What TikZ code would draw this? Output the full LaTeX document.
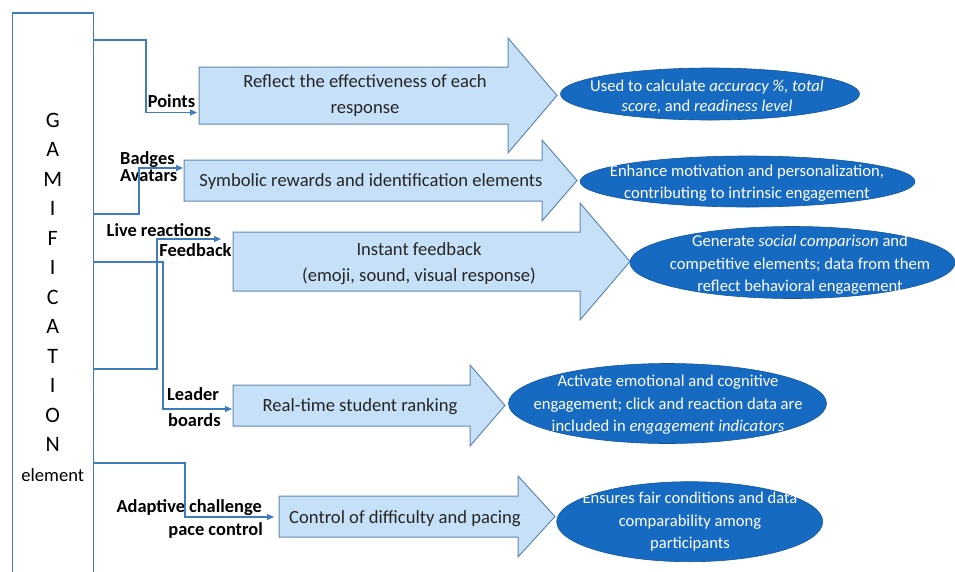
\documentclass[tikz,border=0pt]{standalone}
\usepackage{fontspec}
\setmainfont{Carlito}
\usetikzlibrary{arrows.meta,shapes.geometric}
\definecolor{linkblue}{RGB}{62,124,190}
\definecolor{arrfill}{RGB}{198,224,247}
\definecolor{arredge}{RGB}{98,136,176}
\definecolor{ovalblue}{RGB}{22,106,194}

\begin{document}
\begin{tikzpicture}[x=1pt,y=-1pt,
  gambox/.style={draw=linkblue, line width=1.2pt, minimum width=81pt, minimum height=568pt,
    inner sep=0pt, align=center, font=\fontsize{22}{29.5}\selectfont},
  link/.style={draw=linkblue, line width=1.2pt, -{Triangle[length=7pt,width=6pt]}},
  lbl/.style={inner sep=0pt, font=\bfseries\fontsize{18.4}{22}\selectfont},
  barrow/.style={fill=arrfill, draw=arredge, line width=1pt, line join=miter},
  arrtxt/.style={inner sep=0pt, align=center, text=black!85, font=\fontsize{18.6}{26}\selectfont},
  oval/.style={ellipse, fill=ovalblue, draw=ovalblue!80!black, line width=0.6pt, inner sep=0pt},
  ovtxt/.style={inner sep=0pt, align=center, text=white, font=\fontsize{16.6}{22.5}\selectfont}]

  \useasboundingbox (0,0) rectangle (955,571);
  \clip (0,0) rectangle (955,571);

  % the gamification element column
  \node[gambox] (gam) at (52.75,297) {G\\A\\M\\I\\F\\I\\C\\A\\T\\I\\O\\N\\{\fontsize{18.6}{29.5}\selectfont element}};

  % block arrows
  \draw[barrow] (199,67) -- (508,67) -- (508,38) -- (557,95.5) -- (508,153) -- (508,124) -- (199,124) -- cycle;
  \node[arrtxt] (ptsarr) at (365,96) {Reflect the effectiveness of each\\response};

  \draw[barrow] (184,160) -- (542,160) -- (542,140) -- (577,180.5) -- (542,221) -- (542,201) -- (184,201) -- cycle;
  \node[arrtxt] (bdgarr) at (371,181.5) {Symbolic rewards and identification elements};

  \draw[barrow] (233,232) -- (580,232) -- (580,203) -- (630,261.5) -- (580,320) -- (580,291) -- (233,291) -- cycle;
  \node[arrtxt] (livearr) at (419,264) {Instant feedback\\(emoji, sound, visual response)};

  \draw[barrow] (233,385) -- (470,385) -- (470,365) -- (505,405.5) -- (470,446) -- (470,426) -- (233,426) -- cycle;
  \node[arrtxt] (leadarr) at (360,407) {Real-time student ranking};

  \draw[barrow] (279,496) -- (518,496) -- (518,476) -- (555,516.5) -- (518,557) -- (518,537) -- (279,537) -- cycle;
  \node[arrtxt] (adaptarr) at (405,519) {Control of difficulty and pacing};

  % ovals
  \node[oval, minimum width=299pt, minimum height=52pt] (ptsoval) at (710,94) {};
  \node[ovtxt, font=\fontsize{16.6}{20}\selectfont] at (707,97) {Used to calculate \textit{accuracy \%, total}\\\textit{score}, and \textit{readiness level}};

  \node[oval, minimum width=335pt, minimum height=51pt] (bdgoval) at (747.5,181.5) {};
  \node[ovtxt] at (747,183) {Enhance motivation and personalization,\\contributing to intrinsic engagement};

  \node[oval, minimum width=325pt, minimum height=72pt] (liveoval) at (792.5,262.5) {};
  \node[ovtxt] at (800,265) {Generate \textit{social comparison} and\\competitive elements; data from them\\reflect behavioral engagement};

  \node[oval, minimum width=318pt, minimum height=80pt] (leadoval) at (667.5,403.5) {};
  \node[ovtxt] at (668,405) {Activate emotional and cognitive\\engagement; click and reaction data are\\included in \textit{engagement indicators}};

  \node[oval, minimum width=266pt, minimum height=80pt] (adaptoval) at (689.7,521.7) {};
  \node[ovtxt] at (690,522) {Ensures fair conditions and data\\comparability among\\participants};

  % labels
  \node[lbl, anchor=base] (lblpts) at (171.5,107) {Points};
  \node[lbl, anchor=base west] (lblbdg) at (120,164) {Badges};
  \node[lbl, anchor=base west] (lblav) at (120,181.5) {Avatars};
  \node[lbl, anchor=base] (lbllive) at (159,236.5) {Live reactions};
  \node[lbl, anchor=base] (lblfb) at (195.5,256.5) {Feedback};
  \node[lbl, anchor=base west] (lbllead) at (167,400) {Leader};
  \node[lbl, anchor=base west] (lblbrd) at (168,426) {boards};
  \node[lbl, anchor=base east] (lbladapt) at (262,512) {Adaptive challenge};
  \node[lbl, anchor=base east] (lblpace) at (263,535) {pace control};

  % connectors
  \coordinate (ptsin) at (197,112.5);
  \coordinate (bdgin) at (183,168);
  \coordinate (livein) at (221,239);
  \coordinate (leadin) at (232,409);
  \coordinate (adaptin) at (274,517);

  \draw[link] (gam.east |- 0,40) -| (146,112.5) -- (ptsin);
  \draw[link] (gam.east |- 0,214) -| (139,168) -- (bdgin);
  \draw[link] (gam.east |- 0,369) -| (157,239) -- (livein);
  \draw[link] (gam.east |- 0,262) -| (163,409) -- (leadin);
  \draw[link] (gam.east |- 0,463) -| (185,517) -- (adaptin);

\end{tikzpicture}
\end{document}
